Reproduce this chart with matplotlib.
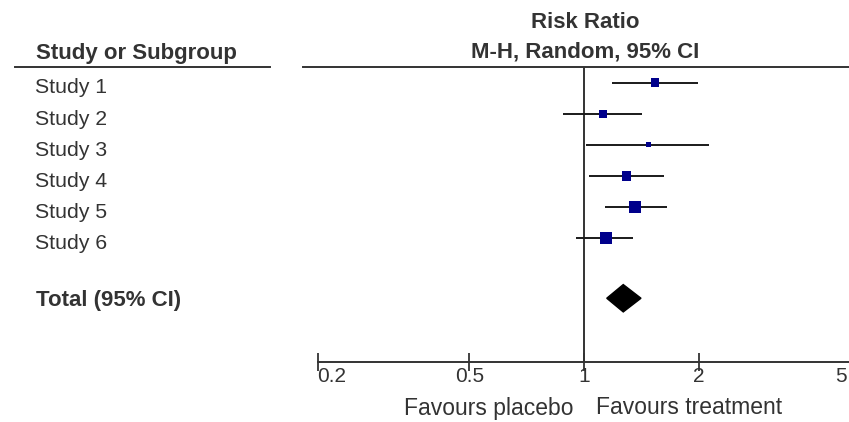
import numpy as np
import matplotlib
matplotlib.use('Agg')
import matplotlib.pyplot as plt
from matplotlib.lines import Line2D
from matplotlib.transforms import blended_transform_factory, ScaledTranslation
from matplotlib.ticker import NullLocator

plt.rcParams['font.family'] = ['Liberation Sans', 'DejaVu Sans']

# данные
studies = ['Study 1', 'Study 2', 'Study 3', 'Study 4', 'Study 5', 'Study 6']
rr = [1.53, 1.12, 1.47, 1.29, 1.36, 1.14]
ci_low = [1.18, 0.88, 1.01, 1.03, 1.13, 0.95]
ci_high = [1.99, 1.42, 2.12, 1.62, 1.65, 1.34]
weights = [13.5, 11.0, 4.5, 17.5, 26.8, 26.7]
total_rr = 1.265
total_low = 1.145
total_high = 1.408
tick_vals = [0.2, 0.5, 1, 2, 5]
tick_labels = ['0.2', '0.5', '1', '2', '5']

W, H = 849, 422
txt = '#333333'
navy = '#00008b'

fig = plt.figure(figsize=(W / 100, H / 100), dpi=100)
ax = fig.add_axes([317.6 / W, 1 - 361.7 / H, (851 - 317.6) / W, (361.7 - 66.7) / H])
ax.set_xscale('log')
ax.set_xlim(0.2, 5)
ax.set_ylim(9.97, 0.486)

rows = np.arange(1, len(studies) + 1)
total_row = 7.93

# доверительные интервалы и квадраты
ax.hlines(rows, ci_low, ci_high, color='#1a1a1a', lw=1.4, zorder=2)
side_pt = 2.3 * np.sqrt(weights) * 0.72
ax.scatter(rr, rows, marker='s', s=side_pt ** 2, color=navy, zorder=3, linewidths=0)

# ромб итога
h = 0.44
ax.fill([total_low, total_rr, total_high, total_rr],
        [total_row, total_row - h, total_row, total_row + h], color='black', zorder=3)

ax.axvline(1, color='#333333', lw=1.4, zorder=1)

for s in ['left', 'right', 'top']:
    ax.spines[s].set_visible(False)
ax.spines['bottom'].set_color('#333333')
ax.spines['bottom'].set_linewidth(1.4)
ax.set_yticks([])
ax.set_xticks(tick_vals)
ax.set_xticklabels(tick_labels)
ax.xaxis.set_minor_locator(NullLocator())
ax.tick_params(axis='x', direction='inout', length=13, width=1.3, color='#333333',
               labelcolor=txt, labelsize=15, pad=-3)
labels = ax.get_xticklabels()
labels[0].set_ha('left')
labels[-1].set_ha('right')
# последняя подпись у самого края - сдвинуть чуть влево
labels[-1].set_transform(labels[-1].get_transform()
                         + ScaledTranslation(-4 / 100, 0, fig.dpi_scale_trans))

# подписи исследований
tr = blended_transform_factory(fig.transFigure, ax.transData)
for name, r in zip(studies, rows):
    ax.text(35 / W, r + 0.17, name, transform=tr, va='center', ha='left',
            fontsize=15.3, color=txt)
ax.text(36.5 / W, total_row + 0.06, 'Total (95% CI)', transform=tr, va='center',
        ha='left', fontsize=16, color=txt, fontweight='bold')

# заголовки
fig.text(36.5 / W, 1 - 53 / H, 'Study or Subgroup', va='center', ha='left',
         fontsize=16, color=txt, fontweight='bold')
fig.text(585.5 / W, 1 - 22 / H, 'Risk Ratio', va='center', ha='center',
         fontsize=16, color=txt, fontweight='bold')
fig.text(585.5 / W, 1 - 52 / H, 'M-H, Random, 95% CI', va='center', ha='center',
         fontsize=16, color=txt, fontweight='bold')
fig.add_artist(Line2D([15 / W, 270 / W], [1 - 67 / H] * 2, color='#333333', lw=1.4))
fig.add_artist(Line2D([303 / W, 1], [1 - 67 / H] * 2, color='#333333', lw=1.4))

fig.text(573 / W, 1 - 408 / H, 'Favours placebo', va='center', ha='right',
         fontsize=16.5, color=txt)
fig.text(596 / W, 1 - 408 / H, 'Favours treatment', va='center', ha='left',
         fontsize=16.5, color=txt)

fig.savefig('out.png', dpi=100, facecolor='white')
